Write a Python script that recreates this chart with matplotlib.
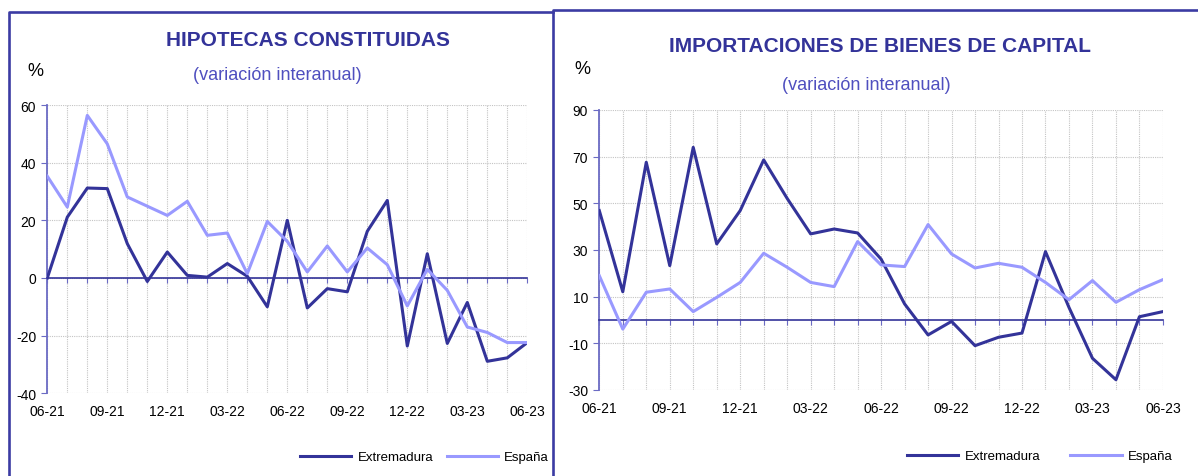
import matplotlib
matplotlib.use("Agg")
import matplotlib.pyplot as plt
from matplotlib.lines import Line2D

plt.rcParams["font.family"] = ["Liberation Sans", "DejaVu Sans"]
plt.rcParams["axes.unicode_minus"] = False

# months shown on the x axis, 06-21 .. 06-23
months = ["06-21", "07-21", "08-21", "09-21", "10-21", "11-21", "12-21",
          "01-22", "02-22", "03-22", "04-22", "05-22", "06-22", "07-22",
          "08-22", "09-22", "10-22", "11-22", "12-22", "01-23", "02-23",
          "03-23", "04-23", "05-23", "06-23"]
tick_labels = months[::3]

# hipotecas constituidas (variación interanual, %)
hip_ext = [0, 21.1, 31.2, 31.0, 11.9, -1.2, 9.0, 0.9, 0.3, 5.0, 0.6, -10.0,
           20.0, -10.4, -3.7, -4.8, 16.2, 26.9, -23.6, 8.4, -22.7, -8.5,
           -28.9, -27.7, -22.4]
hip_esp = [35.3, 24.6, 56.4, 46.5, 28.1, 24.9, 21.7, 26.6, 14.8, 15.6, 1.5,
           19.6, 12.7, 2.1, 11.1, 2.1, 10.4, 4.6, -9.7, 3.0, -4.3, -17.0,
           -18.9, -22.4, -22.4]

# importaciones de bienes de capital (variación interanual, %)
imp_ext = [46.9, 12.1, 67.6, 23.3, 74.0, 32.6, 46.9, 68.6, 52.1, 36.9, 39.0,
           37.3, 26.1, 6.9, -6.4, -0.6, -11.0, -7.4, -5.6, 29.3, 5.4, -16.4,
           -25.6, 1.4, 3.6]
imp_esp = [19.0, -3.9, 11.9, 13.3, 3.6, 9.7, 16.1, 28.6, 22.6, 16.1, 14.3,
           33.6, 23.6, 22.9, 40.9, 28.3, 22.3, 24.3, 22.6, 16.1, 8.7, 16.9,
           7.6, 13.0, 17.3]

NAVY = "#333399"
LIGHT = "#9999ff"
SPINE = "#6b6bc4"
FRAME = "#3b3ba3"
W, H = 1198, 477

fig = plt.figure(figsize=(W / 100, H / 100), dpi=100)


def rect(x0, y0, x1, y1):
    # pixel box (top-left origin) -> figure fraction
    return [x0 / W, 1 - y1 / H, (x1 - x0) / W, (y1 - y0) / H]


def draw_panel(box, ext, esp, ylim, yticks):
    ax = fig.add_axes(rect(*box))
    x = list(range(len(months)))
    ax.plot(x, ext, color=NAVY, lw=2.2, zorder=3, label="Extremadura")
    ax.plot(x, esp, color=LIGHT, lw=2.2, zorder=3, label="España")
    ax.set_xlim(0, len(months) - 1)
    ax.set_ylim(*ylim)
    ax.set_yticks(yticks)
    ax.set_xticks(x)
    ax.grid(True, color="#c4c4c4", ls=(0, (1, 1)), lw=0.8)
    ax.set_axisbelow(True)
    for s in ["top", "right"]:
        ax.spines[s].set_visible(False)
    ax.spines["left"].set_color(SPINE)
    ax.spines["left"].set_linewidth(1.3)
    ax.spines["bottom"].set_position(("data", 0))
    ax.spines["bottom"].set_color(NAVY)
    ax.spines["bottom"].set_linewidth(1.2)
    ax.tick_params(axis="x", direction="out", length=3.5, color=SPINE,
                   labelbottom=False)
    ax.tick_params(axis="y", direction="out", length=4, color=SPINE,
                   labelsize=10, pad=4)
    sec = ax.secondary_xaxis("bottom")
    sec.set_xticks(x[::3], tick_labels)
    sec.tick_params(length=0, pad=8, labelsize=10)
    sec.spines["bottom"].set_visible(False)
    return ax


ax1 = draw_panel((47.3, 106, 527.3, 394.3), hip_ext, hip_esp,
                 (-40, 60), range(-40, 61, 20))
ax2 = draw_panel((599.3, 111, 1162.9, 391), imp_ext, imp_esp,
                 (-30, 90), range(-30, 91, 20))

# titles
fig.text(308 / W, 1 - 40 / H, "HIPOTECAS CONSTITUIDAS", ha="center",
         va="center", fontsize=15, fontweight="bold", color=NAVY)
fig.text(277 / W, 1 - 76 / H, "(variación interanual)", ha="center",
         va="center", fontsize=13, color="#4f4fbf")
fig.text(35 / W, 1 - 71 / H, "%", ha="center", va="center", fontsize=13)

fig.text(880 / W, 1 - 46 / H, "IMPORTACIONES DE BIENES DE CAPITAL",
         ha="center", va="center", fontsize=15, fontweight="bold", color=NAVY)
fig.text(866 / W, 1 - 86 / H, "(variación interanual)", ha="center",
         va="center", fontsize=13, color="#4f4fbf")
fig.text(582 / W, 1 - 70 / H, "%", ha="center", va="center", fontsize=13)

# legends
ax1.legend(loc="center left", bbox_to_anchor=(300 / W, 1 - 458 / H),
           bbox_transform=fig.transFigure, ncol=2, frameon=False,
           fontsize=9.5, handlelength=3.9, handletextpad=0.45,
           columnspacing=1.05, borderpad=0, borderaxespad=0)
ax2.legend(loc="center left", bbox_to_anchor=(907 / W, 1 - 457 / H),
           bbox_transform=fig.transFigure, ncol=2, frameon=False,
           fontsize=9.5, handlelength=3.9, handletextpad=0.45,
           columnspacing=2.3, borderpad=0, borderaxespad=0)

# panel frames
def frame_line(xs, ys):
    fig.add_artist(Line2D([v / W for v in xs], [1 - v / H for v in ys],
                          color=FRAME, lw=1.9, transform=fig.transFigure))


frame_line([9, 9, 553], [490, 13, 13])
frame_line([553, 553, 1210], [490, 10.5, 10.5])

fig.savefig("out.png", dpi=100)
